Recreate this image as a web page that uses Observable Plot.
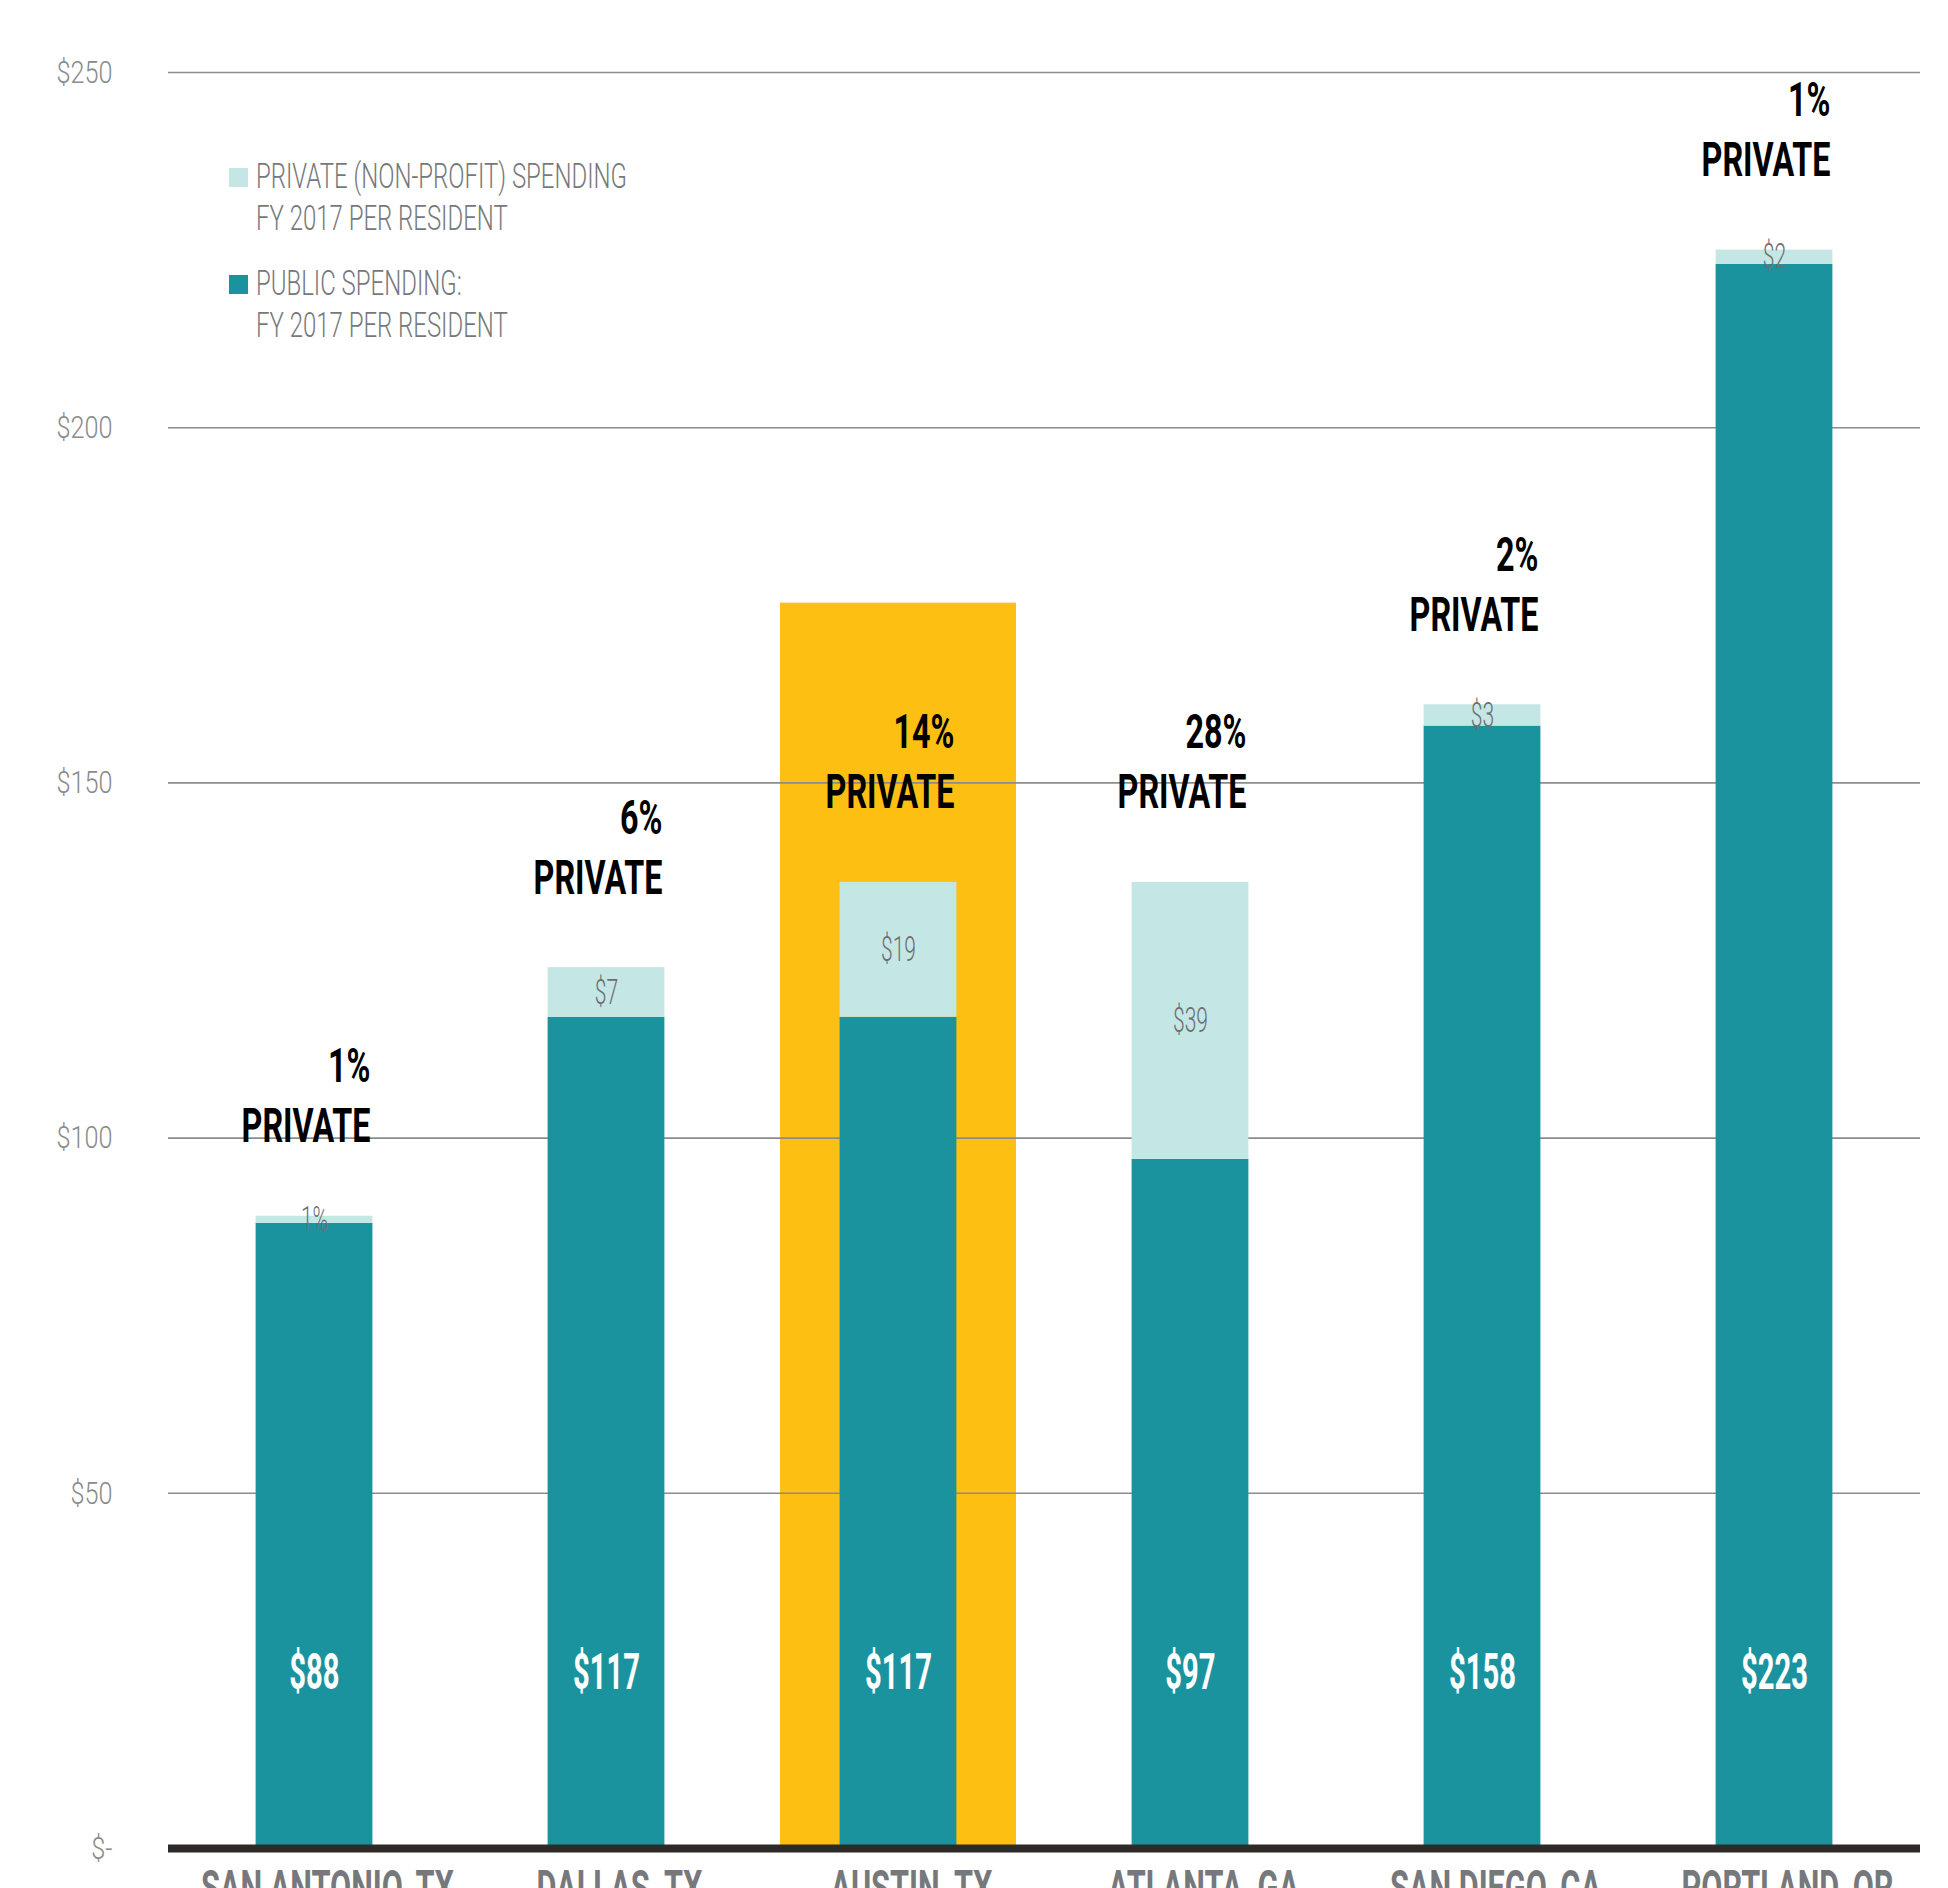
<!DOCTYPE html>
<html>
<head>
<meta charset="utf-8">
<script src="https://cdn.jsdelivr.net/npm/d3@7"></script>
<script src="https://cdn.jsdelivr.net/npm/@observablehq/plot@0.6"></script>
<style>
  html, body { margin: 0; padding: 0; background: #fff; }
  #wrap { position: relative; width: 1948px; }
  .sw { position: absolute; width: 19px; height: 19px; }
  .lt { position: absolute; white-space: nowrap; font-family: Roboto, sans-serif; font-weight: 300;
        font-size: 35px; line-height: 42px; color: #77787b; transform-origin: 0 50%; }
</style>
</head>
<body>
<div id="wrap"></div>
<script>
// ---- data ----
const cities = ["SAN ANTONIO, TX", "DALLAS, TX", "AUSTIN, TX", "ATLANTA, GA", "SAN DIEGO, CA", "PORTLAND, OR"];
const publicSpend = [88, 117, 117, 97, 158, 223];
const privateSpend = [1, 7, 19, 39, 3, 2];
const publicLabels = ["$88", "$117", "$117", "$97", "$158", "$223"];
const privateLabels = ["1%", "$7", "$19", "$39", "$3", "$2"];
const privateShare = ["1%", "6%", "14%", "28%", "2%", "1%"];
const highlightCity = ["AUSTIN, TX"];
const highlightValue = [175.3];
const yTicks = [0, 50, 100, 150, 200, 250];
const yTickLabels = ["$-", "$50", "$100", "$150", "$200", "$250"];
const legendItems = ["PRIVATE (NON-PROFIT) SPENDING", "FY 2017 PER RESIDENT", "PUBLIC SPENDING:", "FY 2017 PER RESIDENT"];

// ---- tables ----
const rows = cities.map((c, i) => ({
  city: c,
  pub: publicSpend[i],
  priv: privateSpend[i],
  total: publicSpend[i] + privateSpend[i],
  mid: publicSpend[i] + privateSpend[i] / 2,
  pubLabel: publicLabels[i],
  privLabel: privateLabels[i],
  share: privateShare[i] + "\nPRIVATE"
}));
const long = rows.flatMap(d => [
  {city: d.city, type: "Public", value: d.pub},
  {city: d.city, type: "Private", value: d.priv}
]);
const highlight = highlightCity.map((c, i) => ({city: c, value: highlightValue[i]}));
const tickLabel = new Map(yTicks.map((t, i) => [t, yTickLabels[i]]));

// ---- fonts / condensing ----
const FONT = "Roboto";
const ctx = document.createElement("canvas").getContext("2d");
function fitScale(font, str, target) { ctx.font = font; return target / ctx.measureText(str).width; }

const TEAL = "#1b939f", LIGHT = "#c4e7e5", YELLOW = "#fcbf12";

const chart = Plot.plot({
  width: 1948,
  height: 1920,
  marginLeft: 168,
  marginRight: 28,
  marginTop: 72,
  marginBottom: 72,
  style: {background: "transparent"},
  x: {domain: cities, padding: 0, label: null},
  y: {domain: [0, 250], label: null},
  color: {domain: ["Public", "Private"], range: [TEAL, LIGHT]},
  marks: [
    Plot.barY(highlight, {x: "city", y: "value", fill: YELLOW, insetLeft: 28, insetRight: 28}),
    Plot.gridY(yTicks.filter(d => d > 0), {stroke: "#8c8c8c", strokeOpacity: 1, strokeWidth: 1.6}),
    Plot.barY(long, {x: "city", y: "value", fill: "type", insetLeft: 87.6, insetRight: 87.6}),
    Plot.text(rows, {x: "city", y: "mid", text: "privLabel", fill: "#6d6e71", fontSize: 35, fontWeight: 300,
      fontFamily: FONT, lineAnchor: "middle"}),
    Plot.text(rows, {x: "city", y: 0, dy: -176, text: "pubLabel", fill: "white", fontSize: 50, fontWeight: 700,
      fontFamily: FONT, lineAnchor: "middle"}),
    Plot.text(rows, {x: "city", y: "total", text: "share", fill: "black", fontSize: 48, fontWeight: 700,
      fontFamily: FONT, textAnchor: "end", lineAnchor: "bottom", lineHeight: 1.25, dx: 56, dy: -74}),
    Plot.ruleY([0], {stroke: "#2e2a27", strokeWidth: 8}),
    Plot.axisY(yTicks, {tickSize: 0, tickPadding: 56, tickFormat: d => tickLabel.get(d), fontSize: 32,
      fontWeight: 300, fontFamily: FONT, color: "#8a8b8d", label: null}),
    Plot.axisX({tickSize: 0, tickPadding: 21, fontSize: 48, fontWeight: 700, fontFamily: FONT,
      color: "#77787b", dx: 13, label: null})
  ]
});

function squeezeEls(els, k) {
  els.forEach(el => {
    const t = el.getAttribute("transform");
    if (t) el.setAttribute("transform", t + ` scale(${k},1)`);
    else {
      const x = +el.getAttribute("x") || 0, y = +el.getAttribute("y") || 0;
      el.setAttribute("transform", `translate(${x},${y}) scale(${k},1) translate(${-x},${-y})`);
    }
  });
}
// text mark groups, in mark order: private labels, public labels, share annotations
const textGroups = chart.querySelectorAll('g[aria-label="text"]');
const kPriv = fitScale(`300 35px ${FONT}`, "$19", 35);
const kPub = fitScale(`700 50px ${FONT}`, "$117", 67);
const kPct = fitScale(`700 48px ${FONT}`, "PRIVATE", 129);
if (textGroups[0]) squeezeEls(textGroups[0].querySelectorAll("text"), kPriv);
if (textGroups[1]) squeezeEls(textGroups[1].querySelectorAll("text"), kPub);
if (textGroups[2]) squeezeEls(textGroups[2].querySelectorAll("text"), kPct);
squeezeEls(chart.querySelectorAll('g[aria-label="y-axis tick label"] text'), fitScale(`300 32px ${FONT}`, "$250", 56));
squeezeEls(chart.querySelectorAll('g[aria-label="x-axis tick label"] text'), fitScale(`700 48px ${FONT}`, "SAN ANTONIO, TX", 254));

const wrap = document.getElementById("wrap");
wrap.appendChild(chart);

// ---- legend (overlay) ----
const legK = fitScale(`300 35px ${FONT}`, legendItems[0], 371);
const swatches = [{color: LIGHT, top: 168}, {color: TEAL, top: 275}];
swatches.forEach(s => {
  const d = document.createElement("div");
  d.className = "sw";
  d.style.left = "229px"; d.style.top = s.top + "px"; d.style.background = s.color;
  wrap.appendChild(d);
});
const lineCenters = [177, 219, 284, 326];
legendItems.forEach((txt, i) => {
  const d = document.createElement("div");
  d.className = "lt";
  d.textContent = txt;
  d.style.left = "256px";
  d.style.top = (lineCenters[i] - 21) + "px";
  d.style.transform = `scaleX(${legK})`;
  wrap.appendChild(d);
});
</script>
</body>
</html>
